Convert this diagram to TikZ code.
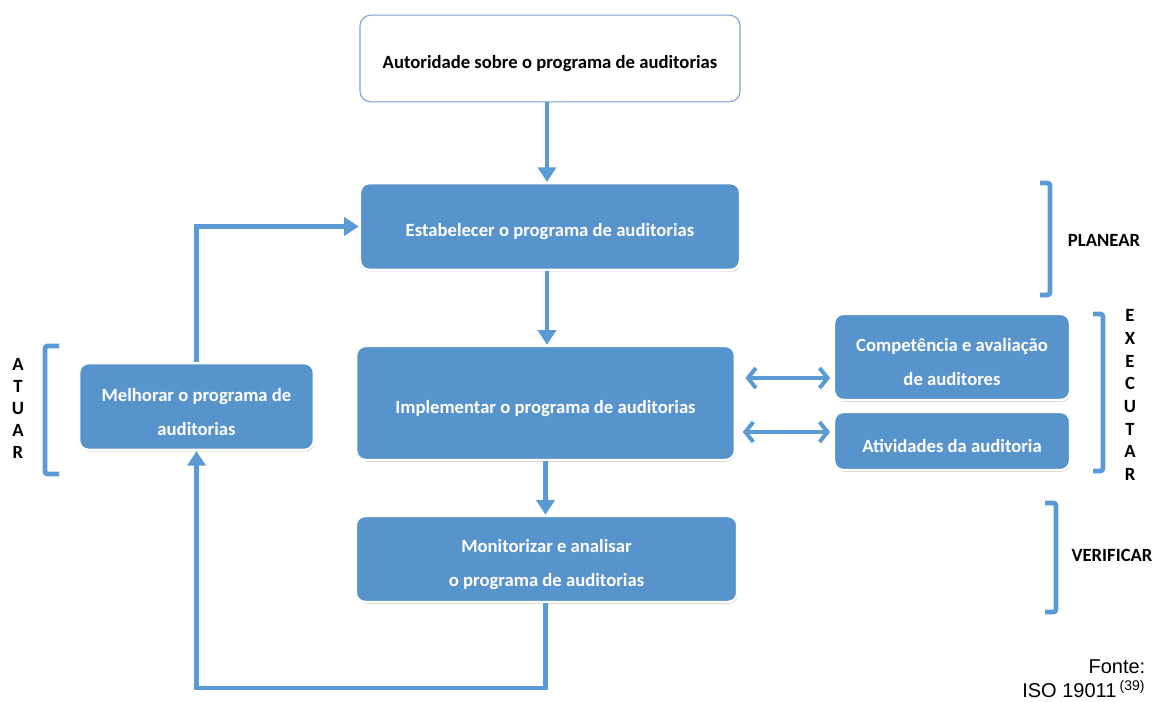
\documentclass[tikz,border=0pt]{standalone}
\usepackage{fontspec}
\setmainfont{Carlito}
\newfontfamily\arialfont{Liberation Sans}
\usetikzlibrary{arrows.meta,shadows}
\definecolor{boxblue}{RGB}{88,148,204}
\definecolor{lineblue}{RGB}{91,155,213}
\definecolor{edgeblue}{RGB}{125,160,210}
\newcommand{\lowtext}{\rule{0pt}{17.5pt}}

\begin{document}
\begin{tikzpicture}[x=0.75pt, y=-0.75pt,
  stepbox/.style={rounded corners=7pt, fill=boxblue, draw=white, line width=1.8pt,
    text=white, align=center, inner sep=0pt,
    font=\bfseries\fontsize{14}{25.5}\selectfont,
    drop shadow={shadow xshift=0.5pt, shadow yshift=-1.2pt, opacity=0.45, fill=black!55}},
  topbox/.style={rounded corners=8pt, fill=white, draw=edgeblue, line width=0.8pt,
    align=center, inner sep=0pt, font=\bfseries\fontsize{14}{25}\selectfont},
  link/.style={draw=lineblue, line width=3.6pt, line join=miter,
    -{Triangle[length=11pt,width=13.5pt]}},
  dbl/.style={draw=lineblue, line width=3pt,
    {Straight Barb[length=6pt,width=15pt]}-{Straight Barb[length=6pt,width=15pt]}},
  brack/.style={draw=lineblue, line width=3.6pt, rounded corners=2pt},
  phase/.style={font=\bfseries\fontsize{14}{16}\selectfont},
  letters/.style={font=\bfseries\fontsize{14}{17}\selectfont, align=center}]
\useasboundingbox (0,0) rectangle (1156,702);

% boxes
\node[topbox, minimum width=285pt, minimum height=65pt] (auth) at (550,58.5)
  {\lowtext Autoridade sobre o programa de auditorias};
\node[stepbox, minimum width=285pt, minimum height=65pt] (estab) at (550,226.5)
  {\lowtext Estabelecer o programa de auditorias};
\node[stepbox, minimum width=284pt, minimum height=85.5pt] (impl) at (545.5,403)
  {\lowtext Implementar o programa de auditorias};
\node[stepbox, minimum width=286pt, minimum height=64.5pt] (monit) at (546.5,559)
  {\lowtext Monitorizar e analisar\\o programa de auditorias};
\node[stepbox, minimum width=176pt, minimum height=65pt] (melh) at (196.5,406.5)
  {\lowtext Melhorar o programa de\\auditorias};
\node[stepbox, minimum width=177pt, minimum height=64.5pt] (comp) at (952,357)
  {\lowtext Competência e avaliação\\de auditores};
\node[stepbox, minimum width=177pt, minimum height=43.5pt] (ativ) at (952,441)
  {\lowtext Atividades da auditoria};

% connectors
\draw[link] ([xshift=-2.25pt]auth.south) -- ([xshift=-2.25pt]auth.south |- estab.north);
\draw[link] ([xshift=-2.25pt]estab.south) -- ([xshift=-2.25pt]estab.south |- impl.north);
\draw[link] (impl.south) -- (impl.south |- monit.north);
\coordinate (loop) at (545.5,688);
\draw[link] (monit.south -| loop) -- (loop) -| (melh.south);
\draw[link] (melh.north) |- (estab.west);
\draw[dbl] ([xshift=7pt]impl.east |- 0,378) -- ([xshift=-2pt]comp.west |- 0,378);
\draw[dbl] ([xshift=5pt]impl.east |- 0,432) -- ([xshift=-2pt]ativ.west |- 0,432);

% phases
\draw[brack] (1040,183) -- (1050,183) -- (1050,295) -- (1040,295);
\node[phase] (planear) at (1104,240) {PLANEAR};
\draw[brack] (1093,314) -- (1103,314) -- (1103,471) -- (1093,471);
\node[letters] (executar) at (1130,395) {E\\X\\E\\C\\U\\T\\A\\R};
\draw[brack] (1045,503) -- (1056,503) -- (1056,612) -- (1045,612);
\node[phase] (verificar) at (1112,555) {VERIFICAR};
\draw[brack] (59,346) -- (45,346) -- (45,474) -- (59,474);
\node[letters, font=\bfseries\fontsize{14}{16.5}\selectfont] (atuar) at (18,408) {A\\T\\U\\A\\R};

\node[anchor=east, align=right, font=\arialfont\fontsize{15}{18}\selectfont] (fonte)
  at (1150,679) {Fonte:\\ISO 19011\,\textsuperscript{(39)}};
\end{tikzpicture}
\end{document}
